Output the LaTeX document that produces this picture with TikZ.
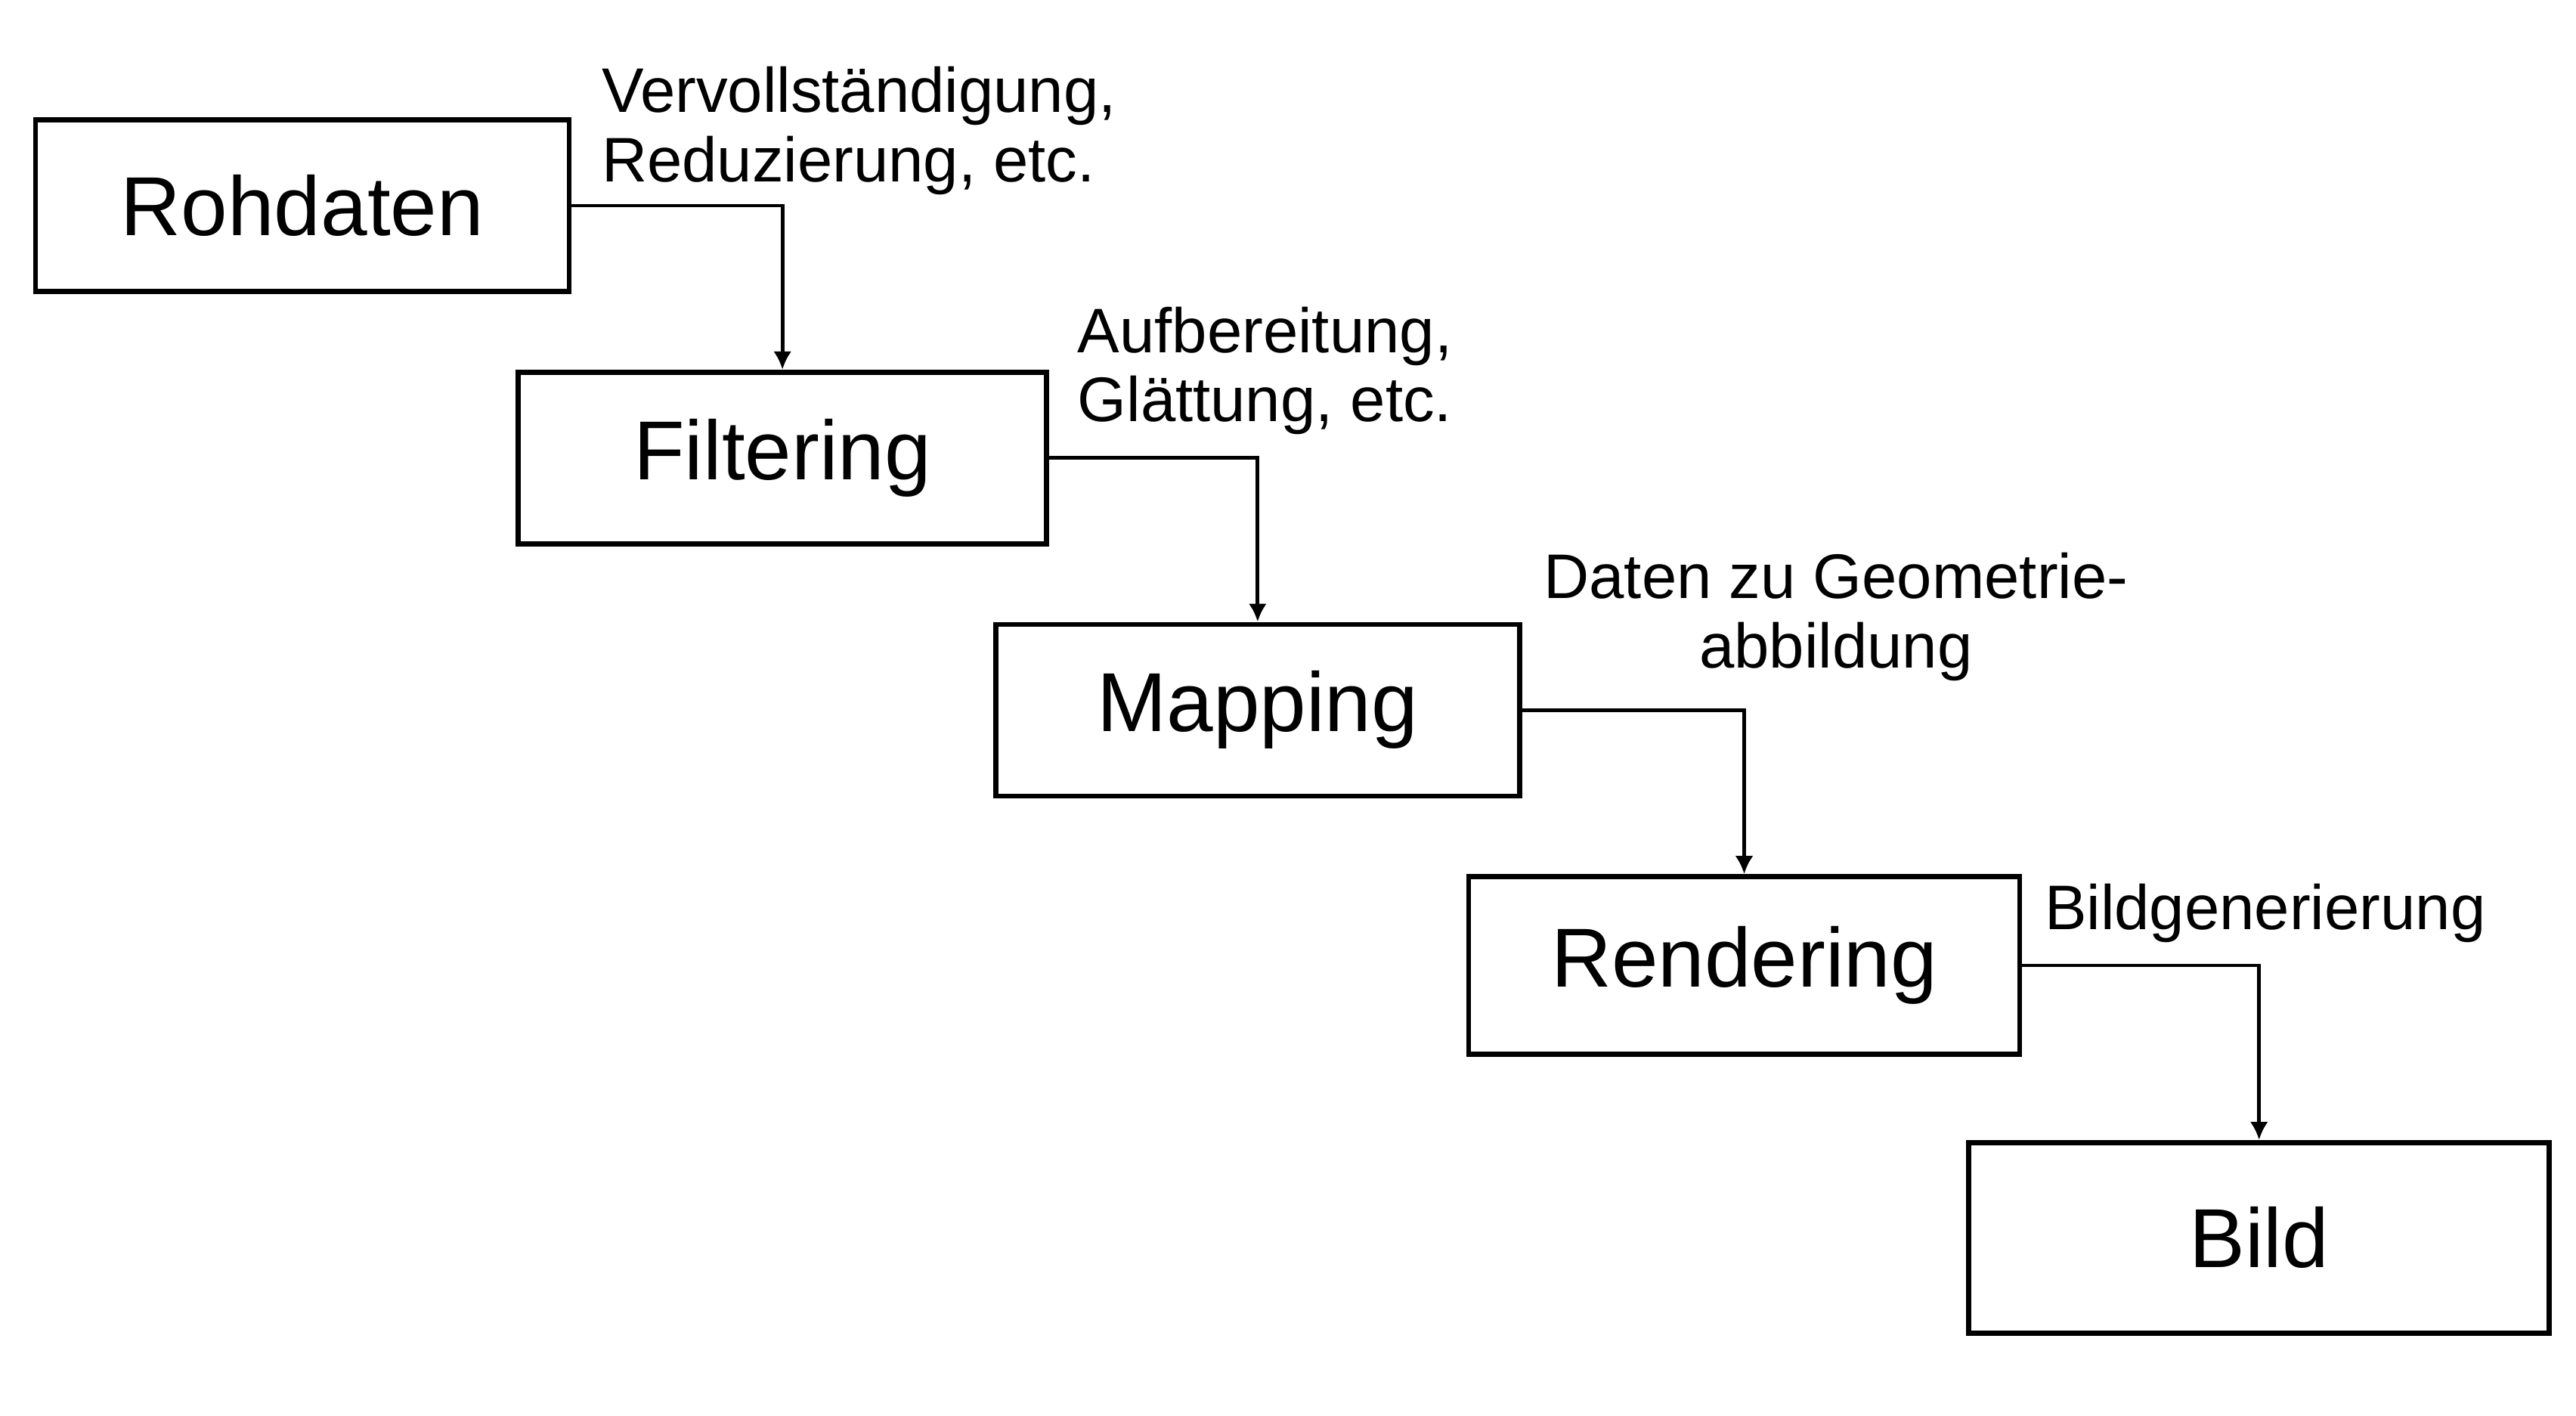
\documentclass[tikz,border=0pt]{standalone}
\usepackage{fontspec}
\setmainfont{Liberation Sans}
\usetikzlibrary{positioning, arrows.meta}

\begin{document}
\begin{tikzpicture}[
        node distance=1.0cm and -0.74cm,
        every node/.style={font=\fontsize{23.7}{26}\selectfont},
        stage/.style={draw, line width=1.9pt, minimum width=7.06cm, minimum height=2.27cm, font=\fontsize{31.5}{36}\selectfont},
        note/.style={inner sep=0pt, align=left},
        arrow/.style={-{Latex[length=0.24cm, width=0.24cm]}, line width=1.4pt}
    ]
    \useasboundingbox (0,0) rectangle (34.08,18.72);

    % Stages
    \node[stage] (rohdaten) at (4.0,16.0) {Rohdaten};
    \node[stage, below right=of rohdaten, minimum width=6.99cm] (filtering) {Filtering};
    \node[stage, below right=of filtering, minimum width=6.93cm] (mapping) {Mapping};
    \node[stage, below right=of mapping, minimum width=7.29cm, minimum height=2.35cm] (rendering) {Rendering};
    \node[stage, below right=1.1cm and -0.74cm of rendering, minimum width=7.68cm, minimum height=2.52cm] (bild) {Bild};

    % Labels
    \node[note, above right=0.14cm and 0.39cm of rohdaten.east] (vervoll) {Vervollständigung,\\Reduzierung, etc.};
    \node[note, above right=0.30cm and 0.37cm of filtering.east] (aufber) {Aufbereitung,\\Glättung, etc.};
    \node[note, align=center, above right=0.38cm and 0.28cm of mapping.east] (geom) {Daten zu Geometrie-\\abbildung};
    \node[note, above right=0.30cm and 0.29cm of rendering.east] (bildgen) {Bildgenerierung};

    % Arrows
    \draw[arrow] (rohdaten.east) -| (filtering.north);
    \draw[arrow] (filtering.east) -| (mapping.north);
    \draw[arrow] (mapping.east) -| (rendering.north);
    \draw[arrow] (rendering.east) -| (bild.north);

\end{tikzpicture}
\end{document}
